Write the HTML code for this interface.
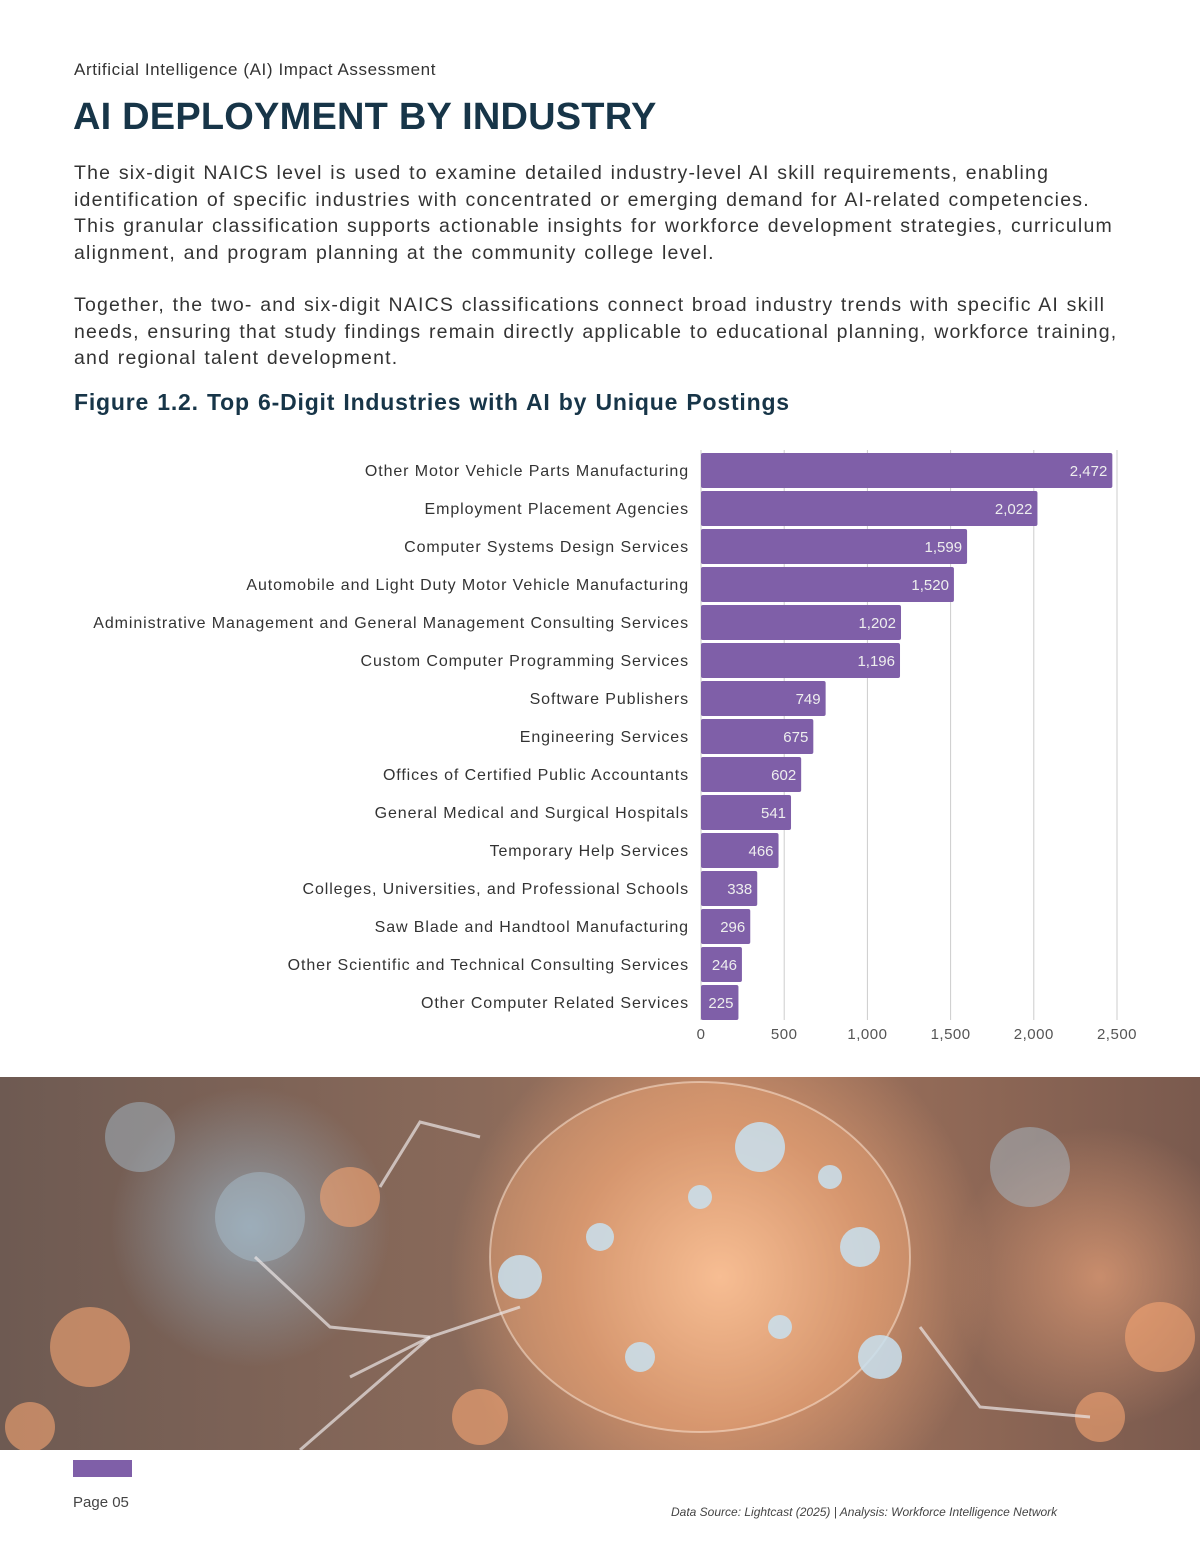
<!DOCTYPE html>
<html><head><meta charset="utf-8"><style>
body{margin:0;width:1200px;height:1553px;background:#fff;font-family:"Liberation Sans",sans-serif;position:relative;overflow:hidden;color:#2f2f2f}
.abs{position:absolute}
#sub{left:74px;top:60px;font-size:17px;color:#333;letter-spacing:.6px}
#title{left:73px;top:96px;font-size:38px;font-weight:bold;color:#173548;letter-spacing:.2px}
.p{left:74px;font-size:19.5px;line-height:26.6px;color:#333;white-space:nowrap;letter-spacing:1.2px;word-spacing:1px}
#fig{left:74px;top:389px;font-size:23px;font-weight:bold;color:#173548;letter-spacing:.8px;word-spacing:1px}
#photo{left:0;top:1077px;width:1200px;height:373px;overflow:hidden;background:
radial-gradient(circle at 720px 200px,rgba(255,205,165,.95) 0,rgba(215,150,110,.75) 150px,rgba(0,0,0,0) 270px),
radial-gradient(circle at 250px 150px,rgba(150,170,185,.8) 0,rgba(0,0,0,0) 140px),
radial-gradient(circle at 1100px 200px,rgba(230,160,120,.7) 0,rgba(0,0,0,0) 150px),
linear-gradient(90deg,#6e5a52,#8a6a5a 40%,#a4765e 60%,#7a5a4e);}
</style></head><body>
<div class="abs" id="sub">Artificial Intelligence (AI) Impact Assessment</div>
<div class="abs" id="title">AI DEPLOYMENT BY INDUSTRY</div>
<div class="abs p" style="top:160px">The six-digit NAICS level is used to examine detailed industry-level AI skill requirements, enabling<br>identification of specific industries with concentrated or emerging demand for AI-related competencies.<br>This granular classification supports actionable insights for workforce development strategies, curriculum<br>alignment, and program planning at the community college level.</div>
<div class="abs p" style="top:292px">Together, the two- and six-digit NAICS classifications connect broad industry trends with specific AI skill<br>needs, ensuring that study findings remain directly applicable to educational planning, workforce training,<br>and regional talent development.</div>
<div class="abs" id="fig">Figure 1.2. Top 6-Digit Industries with AI by Unique Postings</div>
<svg class="abs" style="left:0;top:440px" width="1200" height="620" id="chart"></svg>
<div class="abs" id="photo">
<svg width="1200" height="373">
<g fill="rgba(245,165,115,.6)"><circle cx="90" cy="270" r="40"/><circle cx="350" cy="120" r="30"/><circle cx="1160" cy="260" r="35"/><circle cx="1100" cy="340" r="25"/><circle cx="480" cy="340" r="28"/><circle cx="30" cy="350" r="25"/></g>
<g fill="rgba(170,195,210,.45)"><circle cx="260" cy="140" r="45"/><circle cx="140" cy="60" r="35"/><circle cx="1030" cy="90" r="40"/></g>
<ellipse cx="700" cy="180" rx="210" ry="175" fill="rgba(240,170,120,.35)" stroke="rgba(255,235,220,.5)" stroke-width="2"/>
<g stroke="rgba(235,230,230,.7)" stroke-width="3" fill="none"><polyline points="430,260 330,250 255,180"/><polyline points="430,260 300,373"/><polyline points="520,230 430,260 350,300"/><polyline points="920,250 980,330 1090,340"/><polyline points="380,110 420,45 480,60"/></g>
<g fill="rgba(200,225,240,.85)"><circle cx="760" cy="70" r="25"/><circle cx="520" cy="200" r="22"/><circle cx="860" cy="170" r="20"/><circle cx="880" cy="280" r="22"/><circle cx="640" cy="280" r="15"/><circle cx="700" cy="120" r="12"/><circle cx="600" cy="160" r="14"/><circle cx="780" cy="250" r="12"/><circle cx="830" cy="100" r="12"/></g>
</svg></div>
<div class="abs" style="left:73px;top:1460px;width:59px;height:17px;background:#7f5fa8"></div>
<div class="abs" style="left:73px;top:1494px;font-size:15px;color:#444">Page 05</div>
<div class="abs" style="left:671px;top:1505px;font-size:12px;font-style:italic;color:#444">Data Source: Lightcast (2025) | Analysis: Workforce Intelligence Network</div>
<script>
const categories=["Other Motor Vehicle Parts Manufacturing","Employment Placement Agencies","Computer Systems Design Services","Automobile and Light Duty Motor Vehicle Manufacturing","Administrative Management and General Management Consulting Services","Custom Computer Programming Services","Software Publishers","Engineering Services","Offices of Certified Public Accountants","General Medical and Surgical Hospitals","Temporary Help Services","Colleges, Universities, and Professional Schools","Saw Blade and Handtool Manufacturing","Other Scientific and Technical Consulting Services","Other Computer Related Services"];
const values=[2472,2022,1599,1520,1202,1196,749,675,602,541,466,338,296,246,225];
const ticks=[0,500,1000,1500,2000,2500];
const svg=document.getElementById('chart');
const NS='http://www.w3.org/2000/svg';
const x=v=>701+v*(1117-701)/2500;
const y=i=>13+i*38;
function mk(t,a){const e=document.createElementNS(NS,t);for(const k in a)e.setAttribute(k,a[k]);svg.appendChild(e);return e;}
ticks.forEach(t=>{const l=mk('line',{x1:x(t),x2:x(t),y1:10,y2:580,stroke:'#ccc','stroke-width':1});


const tx=mk('text',{x:x(t),y:599,'text-anchor':'middle','font-size':15,fill:'#555','letter-spacing':0.5});tx.textContent=t.toLocaleString('en-US');

});
values.forEach((v,i)=>{const r=mk('rect',{x:x(0),y:y(i),width:x(v)-x(0),height:35,rx:2,fill:'#7f5fa8'});


const vt=mk('text',{x:x(v)-5,y:y(i)+23,'text-anchor':'end','font-size':15,fill:'#eee'});vt.textContent=v.toLocaleString('en-US');


const ct=mk('text',{x:689,y:y(i)+23,'text-anchor':'end','font-size':16,fill:'#333','letter-spacing':0.9});ct.textContent=categories[i];

});
</script>
</body></html>
